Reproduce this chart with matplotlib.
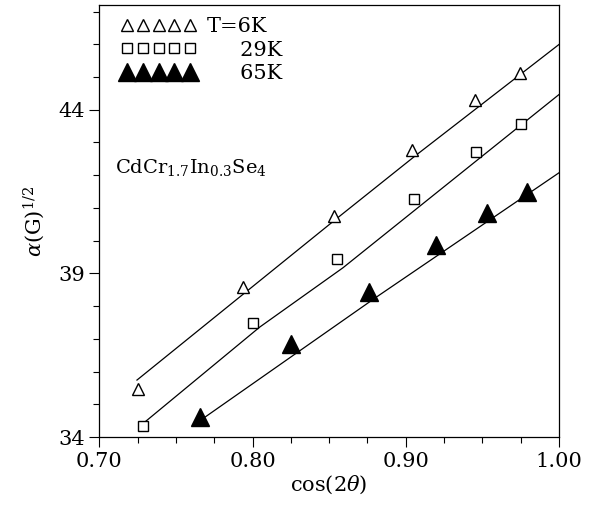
import matplotlib
matplotlib.use("Agg")
import matplotlib.pyplot as plt
from matplotlib.ticker import MultipleLocator, FormatStrFormatter, FixedLocator

plt.rcParams['font.family'] = ['DejaVu Serif']
plt.rcParams['mathtext.fontset'] = 'dejavuserif'

# Data
x_6K = [0.7251, 0.7936, 0.8530, 0.9039, 0.9454, 0.9744]
y_6K = [35.47, 38.59, 40.76, 42.78, 44.31, 45.13]
x_29K = [0.7284, 0.8001, 0.8549, 0.9051, 0.9462, 0.9756]
y_29K = [34.34, 37.49, 39.44, 41.28, 42.72, 43.57]
x_65K = [0.7656, 0.8249, 0.8758, 0.9195, 0.9534, 0.9789]
y_65K = [34.61, 36.84, 38.43, 39.87, 40.85, 41.49]

# Fit curves (read as points along each drawn line)
fit_x_6K = [0.7245, 0.8556, 0.9070, 1.0]
fit_y_6K = [35.74, 40.70, 42.62, 45.99]
fit_x_29K = [0.7297, 0.8047, 0.8590, 1.0]
fit_y_29K = [34.46, 37.36, 39.17, 44.46]
fit_x_65K = [0.769, 0.881, 1.0]
fit_y_65K = [34.61, 38.28, 42.07]

y_major_ticks = [34, 39, 44]
labels = ["T=6K", "     29K", "     65K"]

fig = plt.figure(figsize=(5.92, 5.25), dpi=100)
ax = fig.add_axes([0.168, 0.1676, 0.776, 0.8229])

ax.plot(fit_x_6K, fit_y_6K, color='black', lw=0.9)
ax.plot(fit_x_29K, fit_y_29K, color='black', lw=0.9)
ax.plot(fit_x_65K, fit_y_65K, color='black', lw=0.9)

h1, = ax.plot(x_6K, y_6K, linestyle='none', marker='^', ms=8, mfc='white', mec='black', mew=1.0, label=labels[0])
h2, = ax.plot(x_29K, y_29K, linestyle='none', marker='s', ms=7, mfc='white', mec='black', mew=1.0, label=labels[1])
h3, = ax.plot(x_65K, y_65K, linestyle='none', marker='^', ms=13, mfc='black', mec='black', mew=1.0, label=labels[2])

ax.set_xlim(0.70, 1.00)
ax.set_ylim(34, 47.2)
ax.xaxis.set_major_locator(MultipleLocator(0.10))
ax.xaxis.set_minor_locator(MultipleLocator(0.025))
ax.xaxis.set_major_formatter(FormatStrFormatter('%.2f'))
ax.yaxis.set_major_locator(FixedLocator(y_major_ticks))
ax.yaxis.set_minor_locator(MultipleLocator(1))
ax.tick_params(axis='both', which='major', direction='out', length=7, width=0.8, labelsize=15, top=False, right=False)
ax.tick_params(axis='both', which='minor', direction='out', length=4, width=0.8, top=False, right=False)
for s in ax.spines.values():
    s.set_linewidth(0.9)

ax.set_xlabel(r'cos(2$\theta$)', fontsize=15, labelpad=2)
ax.set_ylabel(r'$\alpha$(G)$^{1/2}$', fontsize=15, labelpad=8)

ax.text(0.034, 0.623, r'CdCr$_{1.7}$In$_{0.3}$Se$_4$', transform=ax.transAxes,
        fontsize=14, ha='left', va='center')

leg = ax.legend(handles=[h1, h2, h3], loc='upper left', numpoints=5, handlelength=3.6,
                frameon=False, fontsize=15, borderaxespad=0.2, handletextpad=0.5,
                labelspacing=0.2, bbox_to_anchor=(0.02, 1.0))

fig.savefig('out.png', dpi=100)
